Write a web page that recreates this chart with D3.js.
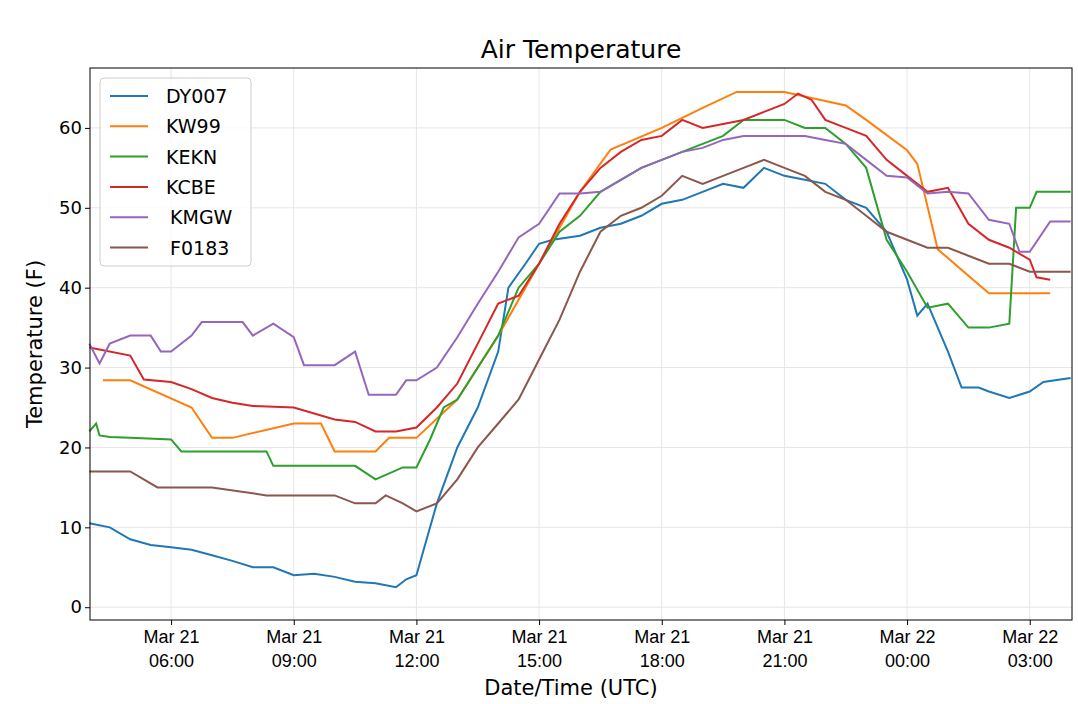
<!DOCTYPE html>
<html><head><meta charset="utf-8">
<script src="https://d3js.org/d3.v7.min.js"></script>
<style>body{margin:0;background:#fff;font-family:"DejaVu Sans",sans-serif}</style>
</head><body><div id="vis"></div>
<script>
// times are "HH:MM" UTC, starting Mar 21 04:00; a time earlier than the previous one rolls to Mar 22
var names = ['DY007', 'KW99', 'KEKN', 'KCBE', 'KMGW', 'F0183'];
var colors = ['#1f77b4', '#ff7f0e', '#2ca02c', '#d62728', '#9467bd', '#8c564b'];

var dy007 = [['04:00',10.5],['04:30',10],['05:00',8.5],['05:30',7.8],['06:00',7.5],['06:30',7.2],['07:00',6.5],['07:30',5.8],['08:00',5],['08:30',5],['09:00',4],['09:30',4.2],['10:00',3.8],['10:30',3.2],['11:00',3],['11:30',2.5],['11:45',3.5],['12:00',4],['12:10',7],['12:30',13],['13:00',20],['13:30',25],['14:00',32],['14:15',40],['14:40',43],['15:00',45.5],['15:20',46],['16:00',46.5],['16:30',47.5],['17:00',48],['17:30',49],['18:00',50.5],['18:30',51],['19:00',52],['19:30',53],['20:00',52.5],['20:30',55],['21:00',54],['21:30',53.5],['22:00',53],['22:30',51],['23:00',50],['23:30',47],['00:00',41],['00:15',36.5],['00:30',38],['01:00',32],['01:20',27.5],['01:45',27.5],['02:00',27],['02:30',26.2],['03:00',27],['03:20',28.2],['04:00',28.7]];
var kw99 = [['04:20',28.4],['05:00',28.4],['06:30',25],['07:00',21.2],['07:30',21.2],['09:00',23],['09:40',23],['10:00',19.5],['11:00',19.5],['11:20',21.2],['12:00',21.2],['13:00',26],['14:00',34],['15:00',43],['16:00',52],['16:45',57.3],['18:00',60],['19:00',62.5],['19:50',64.5],['21:00',64.5],['22:30',62.8],['23:00',61],['00:00',57.2],['00:15',55.5],['00:45',44.8],['02:00',39.3],['03:30',39.3]];
var kekn = [['04:00',22],['04:10',23],['04:15',21.5],['04:30',21.3],['05:00',21.2],['06:00',21],['06:15',19.5],['08:20',19.5],['08:30',17.7],['10:30',17.7],['11:00',16],['11:40',17.5],['12:00',17.5],['12:20',21],['12:40',25],['13:00',26],['13:30',30],['14:00',34],['14:30',40],['15:00',43],['15:30',47],['16:00',49],['16:30',52],['17:00',53.5],['17:30',55],['18:00',56],['18:30',57],['19:00',58],['19:30',59],['20:00',61],['20:30',61],['21:00',61],['21:30',60],['22:00',60],['22:30',58],['23:00',55],['23:30',46],['00:00',42],['00:30',37.5],['01:00',38],['01:30',35],['02:00',35],['02:30',35.5],['02:40',50],['03:00',50],['03:10',52],['04:00',52]];
var kcbe = [['04:00',32.5],['05:00',31.5],['05:20',28.5],['06:00',28.2],['06:30',27.3],['07:00',26.2],['07:30',25.6],['08:00',25.2],['09:00',25],['10:00',23.5],['10:30',23.2],['11:00',22],['11:30',22],['12:00',22.5],['12:30',25],['13:00',28],['13:30',33],['14:00',38],['14:30',39],['15:00',43],['15:30',48],['16:00',52],['16:30',55],['17:00',57],['17:30',58.5],['18:00',59],['18:30',61],['19:00',60],['19:30',60.5],['20:00',61],['20:30',62],['21:00',63],['21:20',64.3],['21:40',63.5],['22:00',61],['22:30',60],['23:00',59],['23:30',56],['00:00',54],['00:30',52],['01:00',52.5],['01:30',48],['02:00',46],['02:30',45],['03:00',43.5],['03:10',41.3],['03:30',41]];
var kmgw = [['04:00',33],['04:15',30.5],['04:30',33],['05:00',34],['05:30',34],['05:45',32],['06:00',32],['06:30',34],['06:45',35.7],['07:45',35.7],['08:00',34],['08:30',35.5],['09:00',33.8],['09:15',30.3],['10:00',30.3],['10:30',32],['10:50',26.6],['11:30',26.6],['11:45',28.4],['12:00',28.4],['12:30',30],['13:00',33.8],['13:30',38],['14:00',42],['14:30',46.3],['15:00',48],['15:30',51.8],['16:00',51.8],['16:30',52],['17:00',53.5],['17:30',55],['18:00',56],['18:30',57],['19:00',57.5],['19:30',58.5],['20:00',59],['21:30',59],['22:00',58.5],['22:30',58],['23:00',56],['23:30',54],['00:00',53.8],['00:30',51.8],['01:00',52],['01:30',51.8],['02:00',48.5],['02:30',48],['02:45',44.5],['03:00',44.5],['03:30',48.3],['04:00',48.3]];
var f0183 = [['04:00',17],['05:00',17],['05:40',15],['07:00',15],['08:20',14],['10:00',14],['10:30',13],['11:00',13],['11:15',14],['11:40',13],['12:00',12],['12:30',13],['13:00',16],['13:30',20],['14:00',23],['14:30',26],['15:00',31],['15:30',36],['16:00',42],['16:30',47],['17:00',49],['17:30',50],['18:00',51.5],['18:30',54],['19:00',53],['19:30',54],['20:00',55],['20:30',56],['21:00',55],['21:30',54],['22:00',52],['22:30',51],['23:00',49],['23:30',47],['00:00',46],['00:30',45],['01:00',45],['01:30',44],['02:00',43],['02:30',43],['03:00',42],['04:00',42]];
var series = [dy007, kw99, kekn, kcbe, kmgw, f0183];
var xTicks = ['06:00', '09:00', '12:00', '15:00', '18:00', '21:00', '00:00', '03:00'];
var xTickDays = ['Mar 21', 'Mar 21', 'Mar 21', 'Mar 21', 'Mar 21', 'Mar 21', 'Mar 22', 'Mar 22'];
var yTicks = [0, 10, 20, 30, 40, 50, 60];

// minutes since Mar 21 00:00 UTC
function toMin(s) { var p = s.split(':').map(Number); return p[0] * 60 + p[1]; }
function parseSeries(s) {
  var day = 21, prev = -1;
  return s.map(function(d) {
    var m = toMin(d[0]);
    if (m < prev) day = 22;
    prev = m;
    return [new Date(Date.UTC(2019, 2, day, 0, m)), d[1]];
  });
}

var W = 1078, H = 704;
var margin = {top: 68, right: 6, bottom: 84, left: 90};
var width = W - margin.left - margin.right, height = H - margin.top - margin.bottom;

var root = d3.select('#vis').append('svg').attr('width', W).attr('height', H);
var svg = root.append('g').attr('transform', 'translate(' + margin.left + ',' + margin.top + ')');

var x = d3.scaleUtc()
  .domain([new Date(Date.UTC(2019, 2, 21, 4, 1)), new Date(Date.UTC(2019, 2, 22, 4, 2))])
  .range([0, width]);
var y = d3.scaleLinear().domain([-1.6, 67.5]).range([height, 0]);

var xt = xTicks.map(function(t, i) {
  return new Date(Date.UTC(2019, 2, xTickDays[i] === 'Mar 21' ? 21 : 22, 0, toMin(t)));
});
svg.append('g').selectAll('line').data(xt).join('line')
  .attr('x1', d => x(d)).attr('x2', d => x(d)).attr('y1', 0).attr('y2', height)
  .attr('stroke', '#e6e6e6');
svg.append('g').selectAll('line').data(yTicks).join('line')
  .attr('y1', d => y(d)).attr('y2', d => y(d)).attr('x1', 0).attr('x2', width)
  .attr('stroke', '#e6e6e6');

var line = d3.line().x(d => x(d[0])).y(d => y(d[1]));
series.forEach(function(s, i) {
  svg.append('path').datum(parseSeries(s)).attr('d', line)
    .attr('fill', 'none').attr('stroke', colors[i]).attr('stroke-width', 2);
});

svg.append('rect').attr('width', width).attr('height', height)
  .attr('fill', 'none').attr('stroke', '#000').attr('stroke-width', 1);

var xa = svg.append('g').attr('transform', 'translate(0,' + height + ')')
  .call(d3.axisBottom(x).tickValues(xt).tickSize(5).tickFormat(''));
xa.select('.domain').remove();
xa.selectAll('.tick').each(function(d, i) {
  var t = d3.select(this).append('text').attr('fill', '#000')
    .attr('font-size', 18).attr('text-anchor', 'middle');
  t.append('tspan').attr('x', 0).attr('y', 23).text(xTickDays[i]);
  t.append('tspan').attr('x', 0).attr('y', 47).text(xTicks[i]);
});

var ya = svg.append('g').call(d3.axisLeft(y).tickValues(yTicks).tickSize(5));
ya.select('.domain').remove();
ya.selectAll('text').attr('font-size', 18).attr('fill', '#000')
  .attr('font-family', 'DejaVu Sans');

root.append('text').attr('x', margin.left + width / 2).attr('y', 58)
  .attr('text-anchor', 'middle').attr('font-size', 25).text('Air Temperature');
root.append('text').attr('x', margin.left + width / 2 - 10).attr('y', 695)
  .attr('text-anchor', 'middle').attr('font-size', 21).text('Date/Time (UTC)');
root.append('text').attr('transform', 'translate(42,' + (margin.top + height / 2) + ') rotate(-90)')
  .attr('text-anchor', 'middle').attr('font-size', 21).text('Temperature (F)');

var lg = svg.append('g').attr('transform', 'translate(10,10)');
lg.append('rect').attr('width', 151).attr('height', 188).attr('rx', 4)
  .attr('fill', 'rgba(255,255,255,0.8)').attr('stroke', '#ccc');
names.forEach(function(n, i) {
  var yy = 18 + i * 30.3;
  lg.append('line').attr('x1', 10).attr('x2', 48).attr('y1', yy).attr('y2', yy)
    .attr('stroke', colors[i]).attr('stroke-width', 2);
  lg.append('text').attr('x', i >= 4 ? 64 : 66).attr('y', yy + 7).attr('font-size', 19)
    .text(i >= 4 ? ' ' + n : n).style('white-space', 'pre');
});
</script></body></html>
